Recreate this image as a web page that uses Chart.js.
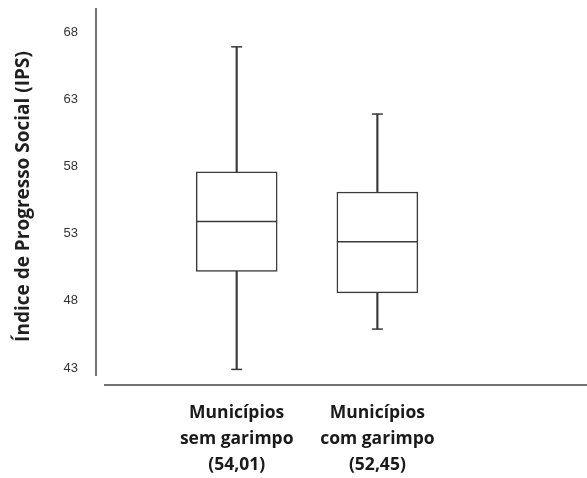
<!DOCTYPE html>
<html>
<head>
<meta charset="utf-8">
<script src="https://cdn.jsdelivr.net/npm/chart.js@4.4.1/dist/chart.umd.min.js"></script>
<style>
  html, body { margin: 0; padding: 0; background: #fff; }
  #wrap { width: 587px; height: 478px; }
</style>
</head>
<body>
<div id="wrap"><canvas id="boxChart"></canvas></div>
<script>
// categories and box statistics
const categories = [
    ['Municípios', 'sem garimpo', '(54,01)'],
    ['Municípios', 'com garimpo', '(52,45)']
];
const minValues = [42.9, 45.9];
const q1Values = [50.2, 48.6];
const medianValues = [53.9, 52.4];
const q3Values = [57.6, 56.1];
const maxValues = [66.9, 61.9];
const yTicks = [43, 48, 53, 58, 63, 68];

const lineColor = '#3a3a3a';
const positions = categories.map((c, i) => i + 1);

// Excel style axis lines: y line stops short, x line starts a bit to the right
const axisLines = {
    id: 'axisLines',
    afterDraw(chart) {
        const { ctx, chartArea } = chart;
        ctx.save();
        ctx.strokeStyle = '#444';
        ctx.lineWidth = 1.5;
        ctx.beginPath();
        ctx.moveTo(chartArea.left, chartArea.top);
        ctx.lineTo(chartArea.left, chartArea.bottom - 9);
        ctx.moveTo(chartArea.left + 8, chartArea.bottom);
        ctx.lineTo(chart.width, chartArea.bottom);
        ctx.stroke();
        ctx.restore();
    }
};

const ctx = document.getElementById('boxChart');
new Chart(ctx, {
    data: {
        datasets: [
            {
                type: 'bar',
                label: 'box',
                data: positions.map((x, i) => ({ x: x, y: [q1Values[i], q3Values[i]] })),
                backgroundColor: '#fff',
                borderColor: lineColor,
                borderWidth: 1.5,
                borderSkipped: false,
                barThickness: 81,
                grouped: false,
                order: 2
            },
            {
                type: 'bar',
                label: 'upper whisker',
                data: positions.map((x, i) => ({ x: x, y: [q3Values[i], maxValues[i]] })),
                backgroundColor: lineColor,
                borderWidth: 0,
                barThickness: 1.5,
                grouped: false,
                order: 3
            },
            {
                type: 'bar',
                label: 'lower whisker',
                data: positions.map((x, i) => ({ x: x, y: [minValues[i], q1Values[i]] })),
                backgroundColor: lineColor,
                borderWidth: 0,
                barThickness: 1.5,
                grouped: false,
                order: 3
            },
            {
                type: 'scatter',
                label: 'median',
                data: positions.map((x, i) => ({ x: x, y: medianValues[i] })),
                pointStyle: 'line',
                radius: 40.5,
                borderColor: lineColor,
                borderWidth: 1.5,
                order: 1
            },
            {
                type: 'scatter',
                label: 'caps',
                data: positions.map((x, i) => ({ x: x, y: maxValues[i] }))
                    .concat(positions.map((x, i) => ({ x: x, y: minValues[i] }))),
                pointStyle: 'line',
                radius: 5.5,
                borderColor: lineColor,
                borderWidth: 1.5,
                order: 1
            }
        ]
    },
    options: {
        responsive: true,
        maintainAspectRatio: false,
        animation: false,
        events: [],
        layout: { autoPadding: false, padding: { top: 8, right: 0, left: 0, bottom: 0 } },
        plugins: {
            legend: { display: false },
            tooltip: { enabled: false }
        },
        scales: {
            x: {
                type: 'linear',
                min: 0,
                max: 3.49,
                offset: false,
                grid: { display: false, drawTicks: false },
                border: { display: false },
                afterBuildTicks: (scale) => { scale.ticks = positions.map(v => ({ value: v })); },
                afterFit: (scale) => {
                    scale.height = 93;
                    scale.paddingLeft = 0;
                    scale.paddingRight = 0;
                },
                ticks: {
                    autoSkip: false,
                    maxRotation: 0,
                    padding: 15,
                    color: '#1a1a1a',
                    font: { family: 'Open Sans', size: 17.5, weight: 'bold', lineHeight: 1.48 },
                    callback: (value) => categories[value - 1] || ''
                }
            },
            y: {
                min: 41.74,
                max: 69.79,
                grid: { display: false, drawTicks: false },
                border: { display: false },
                afterBuildTicks: (scale) => { scale.ticks = yTicks.map(v => ({ value: v })); },
                afterFit: (scale) => {
                    scale.width = 96;
                    scale.paddingTop = 0;
                    scale.paddingBottom = 0;
                },
                ticks: {
                    padding: 18,
                    color: '#333',
                    font: { family: 'Liberation Sans', size: 13 }
                },
                title: {
                    display: true,
                    text: 'Índice de Progresso Social (IPS)',
                    color: '#1f1f1f',
                    padding: { top: 12, bottom: 0 },
                    font: { family: 'Open Sans', size: 19, weight: 'bold' }
                }
            }
        }
    },
    plugins: [axisLines]
});
</script>
</body>
</html>
